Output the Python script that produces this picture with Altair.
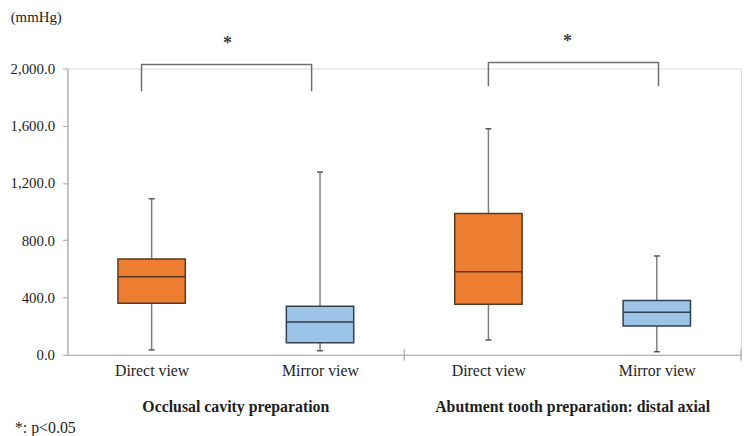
import altair as alt
import pandas as pd

# ---- data ----
views = ["Direct view", "Mirror view", "Direct view", "Mirror view"]
positions = [0.5, 1.5, 2.5, 3.5]
lower = [34, 28, 103, 21]
q1 = [359, 83, 352, 200]
median = [545, 228, 579, 297]
q3 = [669, 338, 986, 379]
upper = [1090, 1276, 1579, 690]

group_names = ["Occlusal cavity preparation", "Abutment tooth preparation: distal axial"]
group_centers = [1.0, 3.0]
group_bounds = [2.0, 4.0]

bracket_left = [0.44, 2.50]
bracket_right = [1.45, 3.51]
bracket_top = [2028, 2041]
bracket_bottom = [1841, 1876]
star_x = [0.95, 2.97]
star_y = [2172, 2186]

y_ticks = [0, 400, 800, 1200, 1600, 2000]

FONT = "Liberation Serif"
TXT = "#1e1e1e"
GRAY = "#a6a6a6"

boxes = pd.DataFrame({
    "pos": positions, "view": views, "lower": lower, "q1": q1,
    "median": median, "q3": q3, "upper": upper,
})

rows = []
for i in range(len(bracket_left)):
    pts = [(bracket_left[i], bracket_bottom[i]), (bracket_left[i], bracket_top[i]),
           (bracket_right[i], bracket_top[i]), (bracket_right[i], bracket_bottom[i])]
    for j, (px, py) in enumerate(pts):
        rows.append({"b": i, "o": j, "bx": px, "by": py})
brackets = pd.DataFrame(rows)
stars = pd.DataFrame({"sx": star_x, "sy": star_y, "t": ["*"] * len(star_x)})
groups = pd.DataFrame({"gx": group_centers, "g": group_names})
bounds = pd.DataFrame({"dx": group_bounds})

label_expr = "''"
for p, v in reversed(list(zip(positions, views))):
    label_expr = f"datum.value == {p} ? '{v}' : ({label_expr})"

xs = alt.Scale(domain=[0, 4], nice=False, zero=False)
ys = alt.Scale(domain=[0, 2000], nice=False)

x_axis = alt.Axis(values=positions, labelExpr=label_expr, ticks=False, grid=False,
                  domainColor=GRAY, domainWidth=1.2, labelFont=FONT, labelFontSize=16,
                  labelColor=TXT, labelPadding=8, title=None)
y_axis = alt.Axis(values=y_ticks, format=",.1f", grid=False, domainColor=GRAY,
                  domainWidth=1.2, tickColor=GRAY, tickSize=5, labelFont=FONT,
                  labelFontSize=15, labelColor=TXT, labelPadding=8,
                  title="(mmHg)", titleAngle=0, titleAlign="center", titleBaseline="alphabetic",
                  titleX=-32, titleY=-47, titleFont=FONT, titleFontSize=15,
                  titleFontWeight="normal", titleColor=TXT)

color_scale = alt.Scale(domain=["Direct view", "Mirror view"], range=["#ED7D31", "#9DC3E6"])
stroke_scale = alt.Scale(domain=["Direct view", "Mirror view"], range=["#5a3a20", "#2e3f52"])

base = alt.Chart(boxes)

whisk = base.mark_rule(color="#7f7f7f", strokeWidth=1.5).encode(
    x=alt.X("pos:Q", scale=xs, axis=x_axis),
    y=alt.Y("lower:Q", scale=ys, axis=y_axis),
    y2="upper:Q",
)
caps_hi = base.mark_rule(color="#555555", strokeWidth=1.5, xOffset=-3, x2Offset=3).encode(
    x="pos:Q", x2="pos:Q", y="upper:Q")
caps_lo = base.mark_rule(color="#555555", strokeWidth=1.5, xOffset=-3, x2Offset=3).encode(
    x="pos:Q", x2="pos:Q", y="lower:Q")
box = base.mark_rect(strokeWidth=1.5, xOffset=-34, x2Offset=34).encode(
    x="pos:Q", x2="pos:Q", y="q1:Q", y2="q3:Q",
    fill=alt.Fill("view:N", scale=color_scale, legend=None),
    stroke=alt.Stroke("view:N", scale=stroke_scale, legend=None),
)
med = base.mark_rule(strokeWidth=1.5, xOffset=-34, x2Offset=34).encode(
    x="pos:Q", x2="pos:Q", y="median:Q",
    color=alt.Color("view:N", scale=stroke_scale, legend=None),
)

br = alt.Chart(brackets).mark_line(color="#6f6f6f", strokeWidth=1.5, strokeJoin="round").encode(
    x="bx:Q", y="by:Q", detail="b:N", order="o:Q")
st = alt.Chart(stars).mark_text(font=FONT, fontSize=18, fontWeight="bold", color="#404040",
                                baseline="middle").encode(x="sx:Q", y="sy:Q", text="t:N")

divs = alt.Chart(bounds).mark_rule(color=GRAY, strokeWidth=1.2).encode(
    x="dx:Q", y=alt.value(283), y2=alt.value(295))

grp = alt.Chart(groups).mark_text(font=FONT, fontSize=16, fontWeight="bold", color=TXT,
                                  baseline="middle").encode(
    x="gx:Q", y=alt.value(342), text="g:N")

foot = alt.Chart(pd.DataFrame({"f": ["*: p<0.05"]})).mark_text(
    font=FONT, fontSize=16, color=TXT, align="left", baseline="middle").encode(
    x=alt.value(-53), y=alt.value(363), text="f:N")

chart = alt.layer(whisk, box, med, caps_hi, caps_lo, br, st, divs, grp, foot).properties(
    width=680, height=289,
    autosize=alt.AutoSizeParams(type="none"),
    padding={"left": 60, "top": 59, "right": 1, "bottom": 80},
).configure_view(stroke=None).configure(background="white")

chart.save("out.html", embed_options={"renderer": "svg", "actions": False})
